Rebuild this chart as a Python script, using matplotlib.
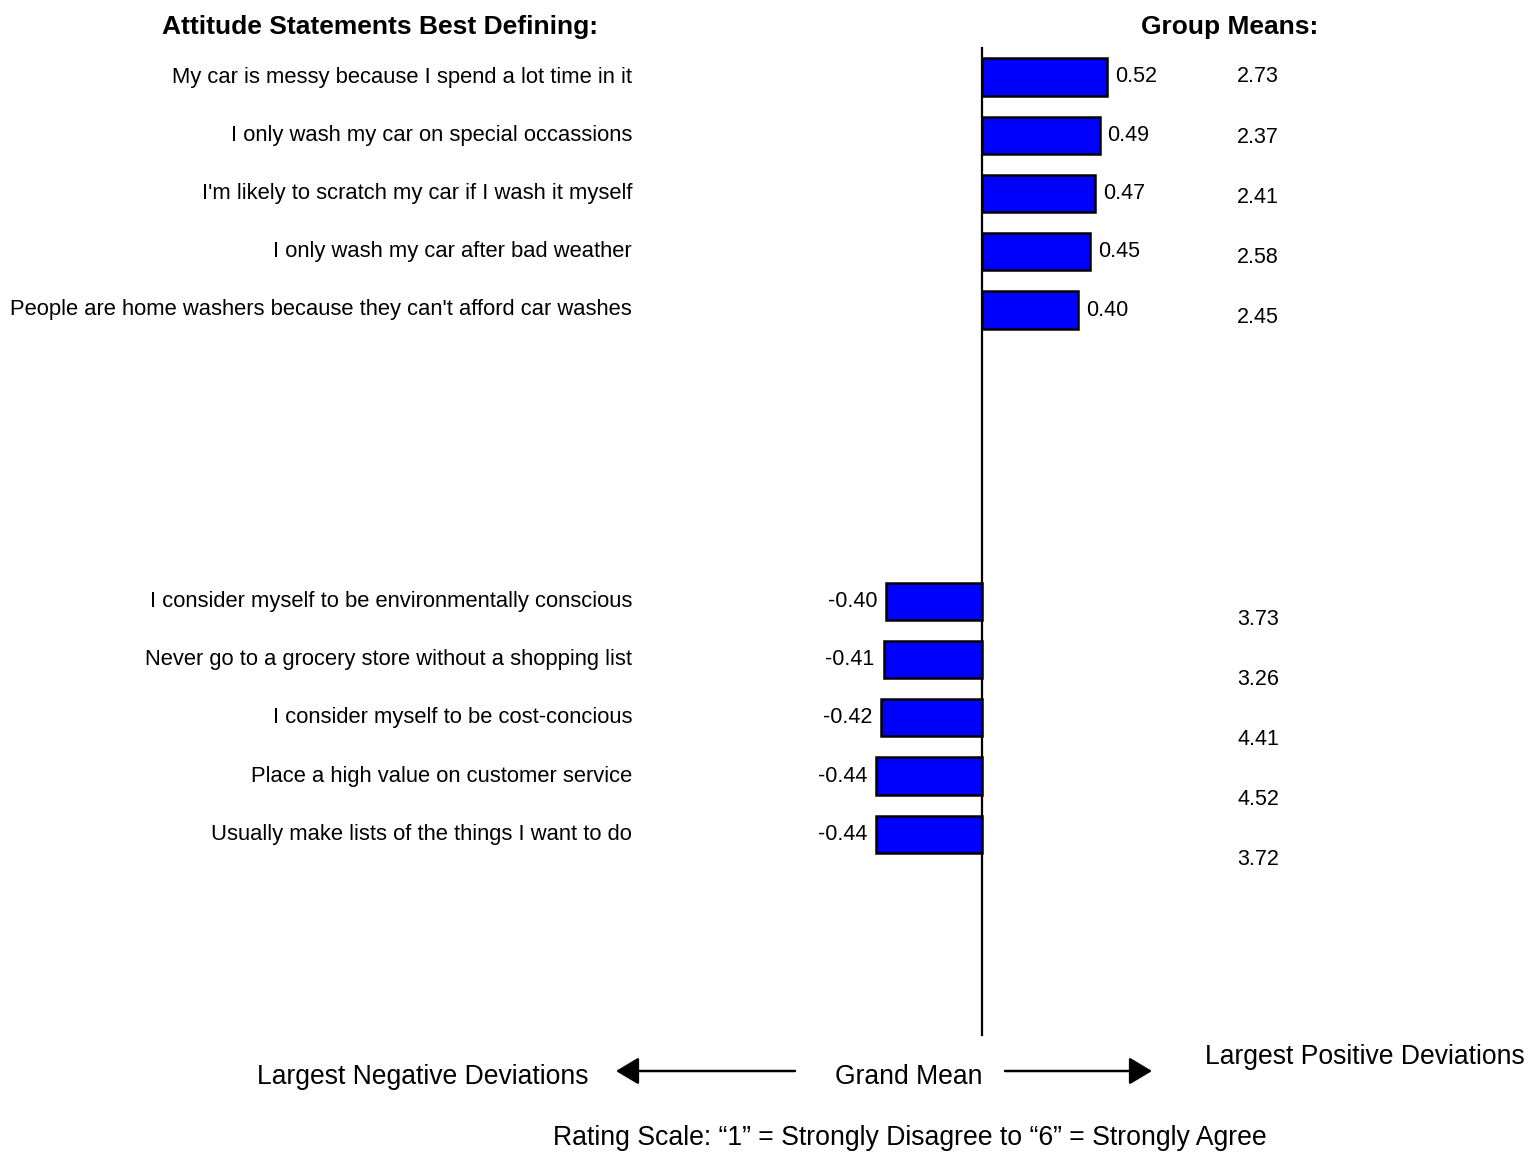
import matplotlib
matplotlib.use("Agg")
import matplotlib.pyplot as plt
from matplotlib.patches import FancyArrowPatch
import numpy as np

plt.rcParams['font.family'] = ['Liberation Sans', 'DejaVu Sans']

statements = [
    "My car is messy because I spend a lot time in it",
    "I only wash my car on special occassions",
    "I'm likely to scratch my car if I wash it myself",
    "I only wash my car after bad weather",
    "People are home washers because they can't afford car washes",
    "I consider myself to be environmentally conscious",
    "Never go to a grocery store without a shopping list",
    "I consider myself to be cost-concious",
    "Place a high value on customer service",
    "Usually make lists of the things I want to do",
]
deviations = [0.52, 0.49, 0.47, 0.45, 0.40, -0.40, -0.41, -0.42, -0.44, -0.44]
group_means = [2.73, 2.37, 2.41, 2.58, 2.45, 3.73, 3.26, 4.41, 4.52, 3.72]

# positive group on top rows, negative group after a gap
rows = np.r_[0:5, 9:14]

W, H = 1531, 1152
fig = plt.figure(figsize=(W / 100, H / 100), dpi=100)
ax = fig.add_axes([0, 0, 1, 1])

px_x = 240.0   # pixels per deviation unit
px_y = 58.25   # pixels per row
x0, y0 = 982, 77
ax.set_xlim(-x0 / px_x, (W - x0) / px_x)
ax.set_ylim((H - y0) / px_y, -y0 / px_y)
ax.axis('off')

ax.barh(rows, deviations, height=0.64, color='#0000ff',
        edgecolor='black', linewidth=1.8, zorder=2)
ax.plot([0, 0], [-0.5, 16.45], color='black', lw=1.6, zorder=3)

fs_lab = 15.8
fs_num = 15.5
for r, s, d, m in zip(rows, statements, deviations, group_means):
    ax.text((632 - x0) / px_x, r, s, ha='right', va='center', fontsize=fs_lab)
    if d >= 0:
        ax.text(d + 0.033, r, f"{d:.2f}", ha='left', va='center', fontsize=fs_num)
    else:
        ax.text(d - 0.037, r, f"{d:.2f}", ha='right', va='center', fontsize=fs_num)
    ax.text((1258 - x0) / px_x, r * 1.034, f"{m:.2f}", ha='center',
            va='center', fontsize=fs_num)

# headers
fig.text(380 / W, 1 - 27 / H, "Attitude Statements Best Defining:",
         ha='center', va='center', fontsize=19, fontweight='bold')
fig.text(1230 / W, 1 - 27 / H, "Group Means:",
         ha='center', va='center', fontsize=19, fontweight='bold')

# bottom annotations
big = 19.1
fig.text(423 / W, 1 - 1077 / H, "Largest Negative Deviations",
         ha='center', va='center', fontsize=big)
fig.text(909 / W, 1 - 1077 / H, "Grand Mean",
         ha='center', va='center', fontsize=big)
fig.text(1365 / W, 1 - 1057 / H, "Largest Positive Deviations",
         ha='center', va='center', fontsize=big)
fig.text(910 / W, 1 - 1138 / H,
         "Rating Scale: \u201c1\u201d = Strongly Disagree to \u201c6\u201d = Strongly Agree",
         ha='center', va='center', fontsize=19.2)

ay = 1 - 1071 / H
arrow = dict(arrowstyle='-|>,head_length=1.0,head_width=0.6',
             color='black', lw=1.8, mutation_scale=14, shrinkA=0, shrinkB=0)
fig.add_artist(FancyArrowPatch((795 / W, ay), (616 / W, ay),
                               transform=fig.transFigure, **arrow))
fig.add_artist(FancyArrowPatch((1005 / W, ay), (1152 / W, ay),
                               transform=fig.transFigure, **arrow))

fig.savefig("out.png", dpi=100, facecolor='white')
